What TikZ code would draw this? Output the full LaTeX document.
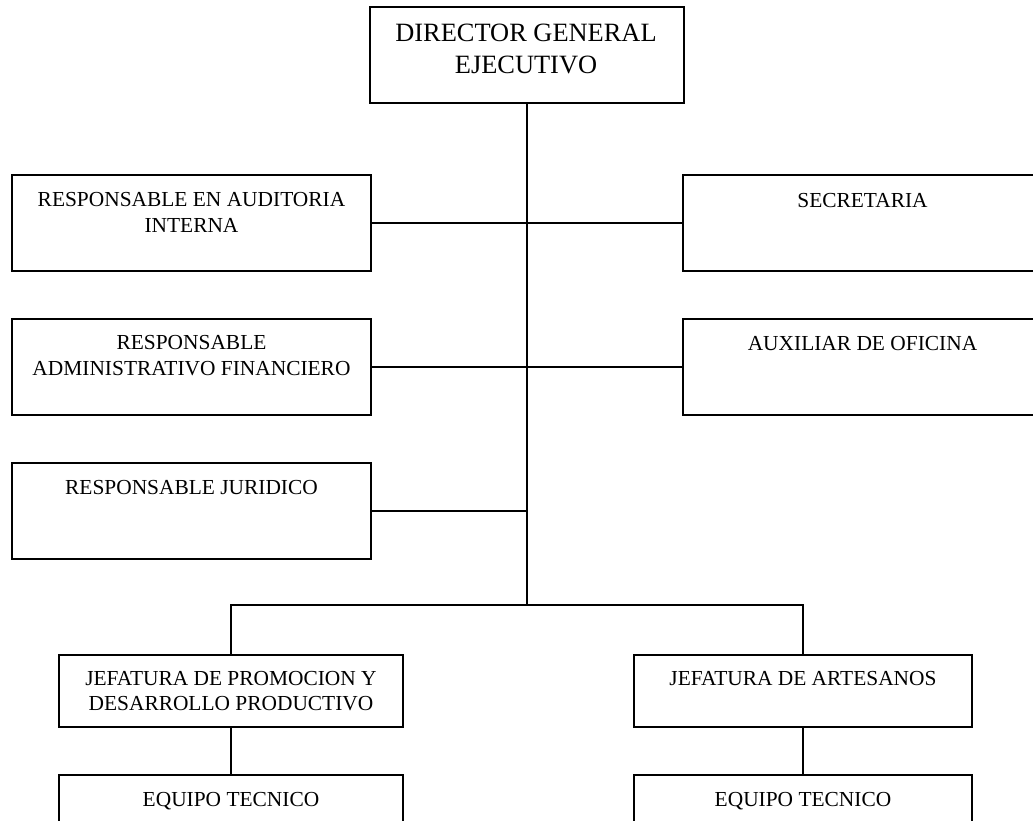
\documentclass[tikz,border=0pt]{standalone}
\usepackage{fontspec}
\setmainfont{Liberation Serif}
\begin{document}
\begin{tikzpicture}[x=1pt,y=-1pt,
  box/.style={draw, line width=2.2pt, inner sep=0pt},
  conn/.style={draw, line width=1.8pt},
  lbl/.style={anchor=base, align=center, inner sep=0pt, font=\fontsize{21.4}{25.7}\selectfont},
  big/.style={anchor=base, align=center, inner sep=0pt, font=\fontsize{26.4}{31.7}\selectfont}]
\useasboundingbox (0,0) rectangle (1033,821);
\clip (0,0) rectangle (1033,821);
\fill[white] (0,0) rectangle (1033,821);
% boxes
\node[box, minimum width=314pt, minimum height=96pt] (dir) at (527,55) {};
\node[box, minimum width=359pt, minimum height=96pt] (aud) at (191.5,223) {};
\node[box, minimum width=359pt, minimum height=96pt] (sec) at (862.5,223) {};
\node[box, minimum width=359pt, minimum height=96pt] (adm) at (191.5,367) {};
\node[box, minimum width=359pt, minimum height=96pt] (aux) at (862.5,367) {};
\node[box, minimum width=359pt, minimum height=96pt] (jur) at (191.5,511) {};
\node[box, minimum width=344pt, minimum height=72pt] (jp) at (231,691) {};
\node[box, minimum width=338pt, minimum height=72pt] (ja) at (803,691) {};
\node[box, minimum width=344pt, minimum height=72pt] (eq1) at (231,811) {};
\node[box, minimum width=338pt, minimum height=72pt] (eq2) at (803,811) {};
% texts (base = baseline of the last line)
\node[big] (tdir) at (526,73.3) {DIRECTOR GENERAL\\EJECUTIVO};
\node[lbl] (taud) at (191.5,232.4) {RESPONSABLE EN AUDITORIA\\INTERNA};
\node[lbl] (tsec) at (862.5,207.5) {SECRETARIA};
\node[lbl] (tadm) at (191.5,375) {RESPONSABLE\\ADMINISTRATIVO FINANCIERO};
\node[lbl] (taux) at (862.5,350) {AUXILIAR DE OFICINA};
\node[lbl] (tjur) at (191.5,494.3) {RESPONSABLE JURIDICO};
\node[lbl] (tjp) at (231,710.7) {JEFATURA DE PROMOCION Y\\DESARROLLO PRODUCTIVO};
\node[lbl] (tja) at (803,685.7) {JEFATURA DE ARTESANOS};
\node[lbl] (teq1) at (231,806.7) {EQUIPO TECNICO};
\node[lbl] (teq2) at (803,806.7) {EQUIPO TECNICO};
% connectors
\coordinate (hub) at (527,605);
\draw[conn] (dir.south) -- (hub);
\draw[conn] (aud.east) -- (sec.west);
\draw[conn] (adm.east) -- (aux.west);
\draw[conn] (jur.east) -- (jur.east -| hub);
\draw[conn] (jp.north) |- (hub) -| (ja.north);
\draw[conn] (jp.south) -- (eq1.north);
\draw[conn] (ja.south) -- (eq2.north);
\end{tikzpicture}
\end{document}
